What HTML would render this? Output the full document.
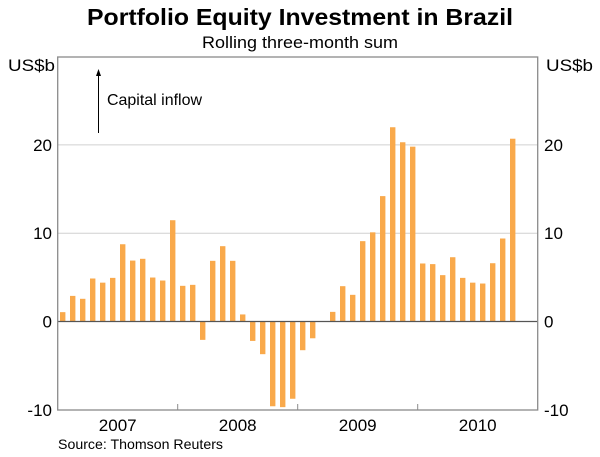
<!DOCTYPE html>
<html><head><meta charset="utf-8"><style>
html,body{margin:0;padding:0;background:#fff;}
svg{display:block;font-family:"Liberation Sans",Arial,sans-serif;}
</style></head><body>
<svg id="chart" width="600" height="457" viewBox="0 0 600 457" xmlns="http://www.w3.org/2000/svg">
<text x="300" y="25" text-anchor="middle" font-size="23" font-weight="bold" fill="#000" textLength="426" lengthAdjust="spacingAndGlyphs">Portfolio Equity Investment in Brazil</text>
<text x="300" y="48" text-anchor="middle" font-size="16.5" fill="#000" textLength="196" lengthAdjust="spacingAndGlyphs">Rolling three-month sum</text>
<text x="8" y="71" font-size="17" fill="#000" textLength="47" lengthAdjust="spacingAndGlyphs">US$b</text>
<text x="546" y="71" font-size="17" fill="#000" textLength="47" lengthAdjust="spacingAndGlyphs">US$b</text>
<g id="grid"></g>
<g id="bars"></g>
<g id="axes"></g>
<line x1="98.5" y1="133" x2="98.5" y2="74" stroke="#000" stroke-width="1"/>
<polygon points="98.5,69 96,76 101,76" fill="#000"/>
<text x="107" y="105" font-size="16" fill="#000" textLength="95" lengthAdjust="spacingAndGlyphs">Capital inflow</text>
<text x="58" y="449" font-size="14" fill="#000" textLength="165" lengthAdjust="spacingAndGlyphs">Source: Thomson Reuters</text>
</svg>
<script>
const years = ["2007","2008","2009","2010"];
const values = [1.06,2.9,2.57,4.87,4.4,4.94,8.75,6.9,7.1,4.98,4.64,11.47,
4.04,4.15,-2.08,6.87,8.53,6.87,0.8,-2.2,-3.7,-9.6,-9.7,-8.75,
-3.25,-1.9,0,1.09,4.0,3.02,9.1,10.1,14.2,22.0,20.3,19.8,
6.57,6.5,5.25,7.28,4.94,4.4,4.3,6.6,9.4,20.7];
const yTicks = [-10,0,10,20];
const gridValues = [10,20];

const NS="http://www.w3.org/2000/svg";
const L=57.7,R=537.7,T=57,B=410,months=48;
function y(v){return 321.5 - v*8.83;}
function xm(i){return L+(i+0.5)*(R-L)/months;}
function mk(tag,attrs,parent){const e=document.createElementNS(NS,tag);for(const k in attrs)e.setAttribute(k,attrs[k]);parent.appendChild(e);return e;}
const grid=document.getElementById('grid'),bars=document.getElementById('bars'),axes=document.getElementById('axes');
gridValues.forEach(v=>{
  const g=mk('line',{x1:L,x2:R,y1:y(v),y2:y(v),stroke:'#d0d0d0','stroke-width':1},grid);
  
  
});
values.forEach((v,i)=>{
  const cx=xm(i),w=5.4;
  const r=mk('rect',{x:cx-w/2,y:Math.min(y(v),y(0)),width:w,height:Math.abs(y(v)-y(0)),fill:'#f9a94b'},bars);
  
  
});
const z=mk('line',{x1:L,x2:R,y1:y(0),y2:y(0),stroke:'#555','stroke-width':1.2},axes);


const fr=mk('rect',{x:L,y:T,width:R-L,height:B-T,fill:'none',stroke:'#8a8a8a','stroke-width':1.3},axes);


yTicks.forEach(v=>{
  const a=mk('text',{x:52,y:y(v)+6,'text-anchor':'end','font-size':17,fill:'#000'},axes);
  a.textContent=v;
  
  
  const b=mk('text',{x:544,y:y(v)+6,'font-size':17,fill:'#000'},axes);
  b.textContent=v;
  
  
});
years.forEach((yr,i)=>{
  const t=mk('text',{x:xm(i*12+5.5),y:431,'text-anchor':'middle','font-size':17,fill:'#000'},axes);
  t.textContent=yr;
  
  
  if(i>0){
    const tk=mk('line',{x1:L+i*120,x2:L+i*120,y1:B,y2:B-6,stroke:'#8a8a8a','stroke-width':1},axes);
    
    
  }
});
</script>
</body></html>
